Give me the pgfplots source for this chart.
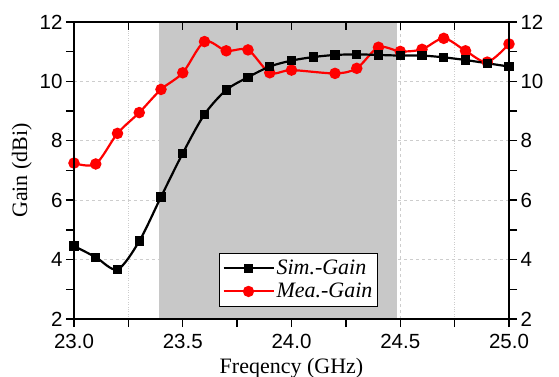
\documentclass[border=0pt]{standalone}
\usepackage{pgfplots}
\pgfplotsset{compat=1.18}
\usepackage{fontspec}
\setmainfont{Liberation Serif}
\newfontfamily\arial{Liberation Sans}
\definecolor{band}{RGB}{200,200,200}
\definecolor{gridc}{RGB}{205,205,205}
\begin{document}
\begin{tikzpicture}
\pgfplotsset{every axis/.append style={width=435pt,height=297pt,scale only axis,
  xmin=23,xmax=25,ymin=2,ymax=12,
  xtick={23,23.5,...,25}, ytick={2,4,...,12},
  minor x tick num=1, minor y tick num=1,
  major tick length=8pt, minor tick length=8pt,
  axis line style={line width=1.4pt},
  every tick/.style={black, line width=1.4pt},
  ticklabel style={font=\arial\fontsize{20.5}{24}\selectfont},
  /pgf/number format/assume math mode=true}}
\begin{axis}[xtick pos=bottom, ytick pos=left, tick align=outside,
  x tick label style={/pgf/number format/.cd, fixed, fixed zerofill, precision=1, /tikz/.cd, yshift=-4pt},
  xmajorgrids, ymajorgrids, xminorgrids,
  major grid style={dashed, gridc, line width=0.8pt},
  minor grid style={dotted, gridc, line width=0.8pt},
  xlabel={Freqency (GHz)}, ylabel={Gain (dBi)},
  label style={font=\fontsize{22}{26}\selectfont},
  xlabel style={at={(axis description cs:0.5,0)}, anchor=base, yshift=-54pt},
  ylabel style={at={(axis description cs:-0.12,0.5)}, anchor=center, rotate=0},
  reverse legend,
  legend style={at={(0.333,0.04)}, anchor=south west, draw=black, line width=1.3pt,
    font=\fontsize{22}{26}\selectfont\itshape, inner xsep=3pt, inner ysep=5pt,
    row sep=3pt, fill=white},
  legend cell align=left,
  legend image code/.code={\draw[mark repeat=2,mark phase=2,#1,line width=2pt] plot coordinates {(0pt,0pt) (25pt,0pt) (50pt,0pt)};}
]
\addplot[draw=none, fill=band, forget plot] coordinates {(23.39,12) (24.485,12)} \closedcycle;
\addplot[red, line width=2.2pt, smooth, mark=*, mark size=4.6pt, mark options={solid}] coordinates {
(23.0,7.25) (23.1,7.22) (23.2,8.25) (23.3,8.95) (23.4,9.73) (23.5,10.29) (23.6,11.34) (23.7,11.03) (23.8,11.06) (23.9,10.29) (24.0,10.38) (24.2,10.27) (24.3,10.44) (24.4,11.15) (24.5,11.01) (24.6,11.08) (24.7,11.45) (24.8,11.03) (24.9,10.65) (25.0,11.26)};
\addlegendentry{Mea.-Gain}
\addplot[black, line width=2.2pt, smooth, mark=square*, mark size=3.6pt, mark options={solid}] coordinates {
(23.0,4.46) (23.1,4.08) (23.2,3.67) (23.3,4.62) (23.4,6.11) (23.5,7.58) (23.6,8.89) (23.7,9.71) (23.8,10.14) (23.9,10.5) (24.0,10.7) (24.1,10.82) (24.2,10.89) (24.3,10.91) (24.4,10.89) (24.5,10.87) (24.6,10.87) (24.7,10.81) (24.8,10.72) (24.9,10.61) (25.0,10.5)};
\addlegendentry{Sim.-Gain}
\end{axis}
\begin{axis}[axis x line=none, axis y line*=right, ytick pos=right, tick align=outside]
\end{axis}
\begin{axis}[xtick pos=top, tick align=inside, xticklabels={}, ytick=\empty]
\end{axis}
\pgfresetboundingbox
\path[use as bounding box] ([shift={(-74pt,-58pt)}]current axis.south west) rectangle ([shift={(50pt,22pt)}]current axis.north east);
\end{tikzpicture}
\end{document}
